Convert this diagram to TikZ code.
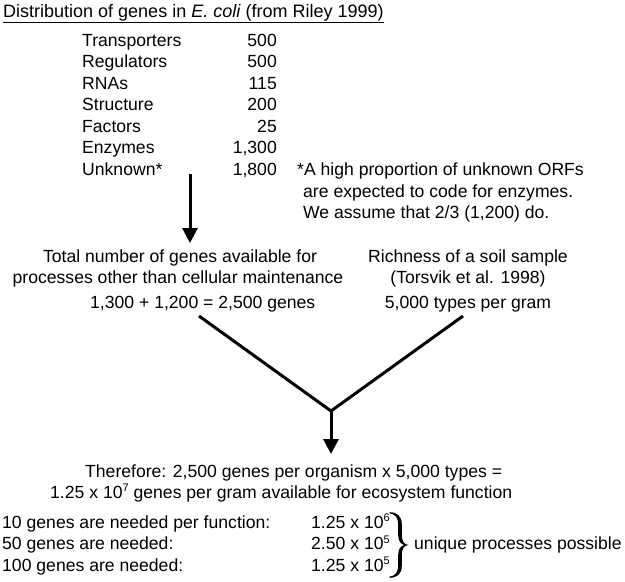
\documentclass[tikz,border=0pt]{standalone}
\usepackage{fontspec}
\setmainfont{Liberation Sans}
\usetikzlibrary{arrows.meta}
\tikzset{
  txt/.style={font=\fontsize{17.6}{20}\selectfont, inner sep=0pt, anchor=base west},
  txtr/.style={txt, anchor=base east},
  txtc/.style={txt, anchor=base},
  conn/.style={line width=3pt},
  arr/.style={line width=3pt, -{Triangle[width=15pt,length=15pt]}}
}
\newcommand{\supnum}[1]{\raisebox{6.5pt}{\fontsize{11}{11}\selectfont #1}}
\begin{document}
\begin{tikzpicture}[x=1pt,y=-1pt]
\fill[white] (0,0) rectangle (625,582);
\useasboundingbox (0,0) rectangle (625,582);
% title
\node[txt, font=\fontsize{18}{20}\selectfont] (title) at (3,17) {\underline{Distribution of genes in \textit{E. coli} (from Riley 1999)}};
% table
\node[txt] (l1) at (82,46) {Transporters};   \node[txtr] (n1) at (277,46) {500};
\node[txt] (l2) at (82,67.5) {Regulators};   \node[txtr] (n2) at (277,67.5) {500};
\node[txt] (l3) at (82,89) {RNAs};           \node[txtr] (n3) at (277,89) {115};
\node[txt] (l4) at (82,110.5) {Structure};   \node[txtr] (n4) at (277,110.5) {200};
\node[txt] (l5) at (82,132) {Factors};       \node[txtr] (n5) at (277,132) {25};
\node[txt] (l6) at (82,153.5) {Enzymes};     \node[txtr] (n6) at (277,153.5) {1,300};
\node[txt] (l7) at (82,175) {Unknown*};      \node[txtr] (n7) at (277,175) {1,800};
% footnote
\node[txt] (f1) at (297,175) {*A high proportion of unknown ORFs};
\node[txt] (f2) at (303,197) {are expected to code for enzymes.};
\node[txt] (f3) at (303,218) {We assume that 2/3 (1,200) do.};
% first arrow
\coordinate (a1s) at (190,174);
\coordinate (a1e) at (190,243);
\draw[arr] (a1s) -- (a1e);
% middle left
\node[txtc] (t1) at (180,262) {Total number of genes available for};
\node[txtc] (t2) at (178,283) {processes other than cellular maintenance};
\node[txt] (t3) at (90,308) {1,300 + 1,200 = 2,500 genes};
% middle right
\node[txtc] (r1) at (468,262) {Richness of a soil sample};
\node[txtc] (r2) at (468,283) {(Torsvik et al. 1998)};
\node[txtc] (r3) at (468,308) {5,000 types per gram};
% V
\coordinate (vl) at (199,316);
\coordinate (vr) at (463,316);
\coordinate (vj) at (331,411);
\coordinate (vt) at (331,454);
\draw[conn, line join=miter] (vl) -- (vj) -- (vr);
\draw[arr] (vj) -- (vt);
% therefore
\node[txt] (th1) at (85,477) {Therefore: 2,500 genes per organism x 5,000 types =};
\node[txt] (th2) at (50,498) {1.25 x 10\supnum{7} genes per gram available for ecosystem function};
% bottom
\node[txt] (b1) at (2,528) {10 genes are needed per function:};
\node[txt] (b2) at (2,549.5) {50 genes are needed:};
\node[txt] (b3) at (2,571) {100 genes are needed:};
\node[txt] (c1) at (311,528) {1.25 x 10\supnum{6}};
\node[txt] (c2) at (311,549.5) {2.50 x 10\supnum{5}};
\node[txt] (c3) at (311,571) {1.25 x 10\supnum{5}};
% brace
\fill[black] (389.5,512.2) .. controls (397,512.2) and (401.8,516) .. (401.8,524)
  -- (401.8,535) .. controls (401.8,541) and (404,544.5) .. (408.5,545)
  .. controls (404,545.5) and (401.8,549) .. (401.8,555)
  -- (401.8,566) .. controls (401.8,574) and (397,577.8) .. (389.5,577.8)
  -- (389.5,576.5) .. controls (395,576.5) and (398.2,572) .. (398.2,566)
  -- (398.2,555) .. controls (398.2,549.5) and (400.5,546) .. (404,545)
  .. controls (400.5,544) and (398.2,540.5) .. (398.2,535)
  -- (398.2,524) .. controls (398.2,518) and (395,513.5) .. (389.5,513.5) -- cycle;
\node[txt] (up) at (414,549.5) {unique processes possible};
\end{tikzpicture}
\end{document}
